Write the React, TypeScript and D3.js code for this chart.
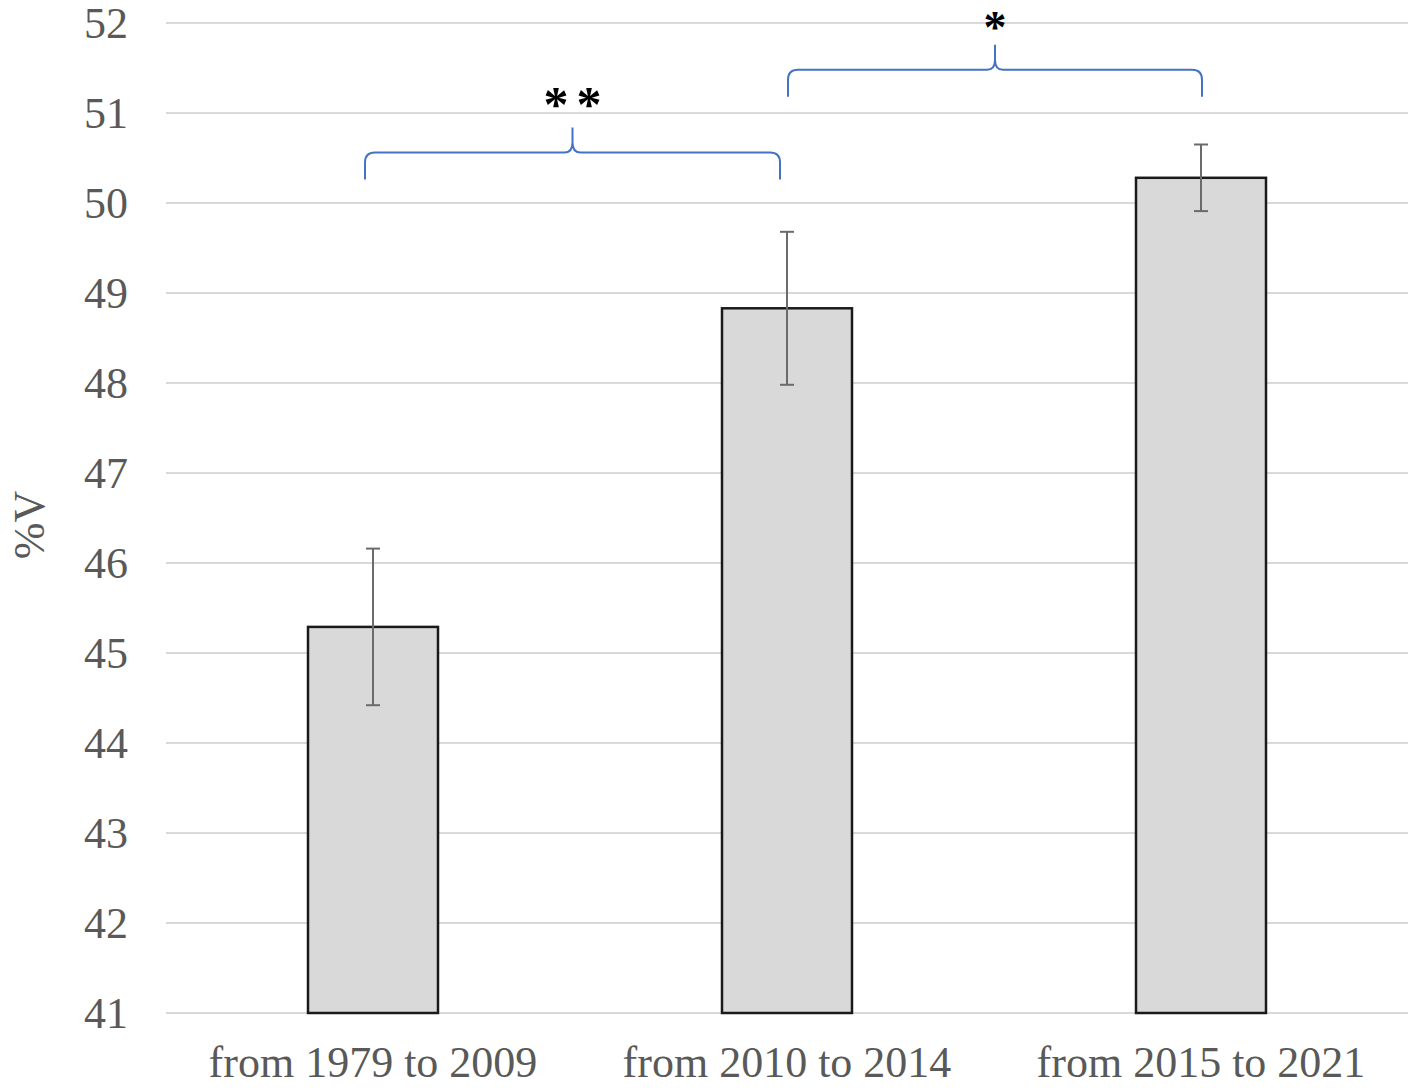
import React from 'react';
import * as d3 from 'd3';

const categories = ['from 1979 to 2009', 'from 2010 to 2014', 'from 2015 to 2021'];
const means = [45.29, 48.83, 50.28];
const errors = [0.87, 0.85, 0.37];
const yTicks = [41, 42, 43, 44, 45, 46, 47, 48, 49, 50, 51, 52];
// significance brackets: [from category, to category, y of bracket foot, label]
const brackets: [number, number, number, string][] = [
  [0, 1, 50.26, '**'],
  [1, 2, 51.18, '*'],
];

const W = 1417;
const H = 1090;
const M = { left: 166, right: 9, top: 23, bottom: 77 };

const serif = '"Liberation Serif", "Times New Roman", serif';

export default function App() {
  const x = d3
    .scaleBand<string>()
    .domain(categories)
    .range([M.left, W - M.right])
    .paddingInner(0.686)
    .paddingOuter(0.343);

  const y = d3.scaleLinear().domain([41, 52]).range([H - M.bottom, M.top]);

  const bw = x.bandwidth();
  const cx = (i: number) => (x(categories[i]) as number) + bw / 2;

  // curly brace between two x positions, foot at yFoot
  const brace = (x1: number, x2: number, yFoot: number) => {
    const yLine = yFoot - 27;
    const mid = (x1 + x2) / 2;
    const r = 10;
    const p = d3.path();
    p.moveTo(x1, yFoot);
    p.lineTo(x1, yLine + r);
    p.quadraticCurveTo(x1, yLine, x1 + r, yLine);
    p.lineTo(mid - 8, yLine);
    p.quadraticCurveTo(mid, yLine, mid, yLine - 10);
    p.lineTo(mid, yLine - 25);
    p.moveTo(mid, yLine - 10);
    p.quadraticCurveTo(mid, yLine, mid + 8, yLine);
    p.lineTo(x2 - r, yLine);
    p.quadraticCurveTo(x2, yLine, x2, yLine + r);
    p.lineTo(x2, yFoot);
    return { d: p.toString(), mid, top: yLine - 25 };
  };

  return (
    <svg width={W} height={H} style={{ position: 'absolute', left: 0, top: 0, background: '#fff' }}>
      <rect width={W} height={H} fill="#fff" />
      {yTicks.map((t) => (
        <g key={t}>
          <line x1={M.left} x2={W - M.right} y1={y(t)} y2={y(t)} stroke="#d9d9d9" strokeWidth={2} />
          <text
            x={128}
            y={y(t)}
            dy="0.35em"
            textAnchor="end"
            fontFamily={serif}
            fontSize={44}
            fill="#595959"
          >
            {t}
          </text>
        </g>
      ))}

      {categories.map((c, i) => (
        <g key={c}>
          <rect
            x={x(c)}
            y={y(means[i])}
            width={bw}
            height={y(41) - y(means[i])}
            fill="#d9d9d9"
            stroke="#1a1a1a"
            strokeWidth={2.5}
          />
          <line
            x1={cx(i)}
            x2={cx(i)}
            y1={y(means[i] + errors[i])}
            y2={y(means[i] - errors[i])}
            stroke="#6b6b6b"
            strokeWidth={2}
          />
          {[1, -1].map((s) => (
            <line
              key={s}
              x1={cx(i) - 7}
              x2={cx(i) + 7}
              y1={y(means[i] + s * errors[i])}
              y2={y(means[i] + s * errors[i])}
              stroke="#6b6b6b"
              strokeWidth={2}
            />
          ))}
          <text
            x={cx(i)}
            y={1077}
            textAnchor="middle"
            fontFamily={serif}
            fontSize={44}
            fill="#595959"
          >
            {c}
          </text>
        </g>
      ))}

      {brackets.map(([a, b, v, label]) => {
        const x1 = a === 0 ? cx(a) - 8 : cx(a) + 1;
        const x2 = b === 1 ? cx(b) - 7 : cx(b) + 1;
        const br = brace(x1, x2, y(v));
        const double = label.length > 1;
        const ls = double ? 8 : 0;
        return (
          <g key={label}>
            <path d={br.d} fill="none" stroke="#4472c4" strokeWidth={2} />
            <text
              x={br.mid + ls / 2}
              y={double ? br.top - 7 : br.top - 2.3}
              textAnchor="middle"
              fontFamily={serif}
              fontWeight="bold"
              fontSize={double ? 50 : 46}
              letterSpacing={ls}
              fill="#000"
            >
              {label}
            </text>
          </g>
        );
      })}

      <text
        transform={`translate(44, 525) rotate(-90)`}
        textAnchor="middle"
        fontFamily={serif}
        fontSize={44}
        fill="#595959"
      >
        %V
      </text>
    </svg>
  );
}
